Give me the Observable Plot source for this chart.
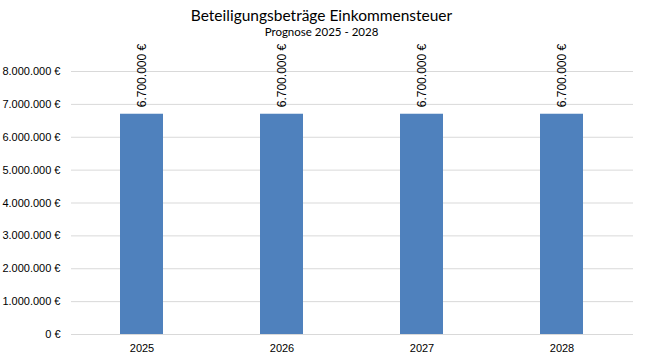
<!DOCTYPE html>
<html>
<head>
<meta charset="utf-8">
<script src="https://cdn.jsdelivr.net/npm/d3@7"></script>
<script src="https://cdn.jsdelivr.net/npm/@observablehq/plot@0.6"></script>
<style>
  html, body { margin: 0; padding: 0; background: #fff; }
  #wrap { position: relative; width: 645px; height: 364px; overflow: hidden; }
  #title { position: absolute; left: 0; width: 643px; top: 5px; text-align: center;
           font-family: Lato, sans-serif; font-size: 15.5px; color: #000; line-height: 20px; }
  #subtitle { position: absolute; left: 0; width: 643px; top: 25px; text-align: center;
           font-family: Lato, sans-serif; font-size: 11.5px; color: #000; line-height: 14px; }
  #chart svg { overflow: visible; }
</style>
</head>
<body>
<div id="wrap">
  <div id="chart"></div>
  <div id="title">Beteiligungsbeträge Einkommensteuer</div>
  <div id="subtitle">Prognose 2025 - 2028</div>
</div>
<script>
const years = ["2025", "2026", "2027", "2028"];
const values = [6700000, 6700000, 6700000, 6700000];
const yTicks = [0, 1000000, 2000000, 3000000, 4000000, 5000000, 6000000, 7000000, 8000000];

const data = years.map((y, i) => ({year: y, value: values[i]}));
const fmt = v => (v === 0 ? "0" : d3.format(",")(v).replace(/,/g, ".")) + " €";

const chart = Plot.plot({
  width: 645,
  height: 364,
  marginTop: 71,
  marginBottom: 30,
  marginLeft: 71,
  marginRight: 12,
  style: {fontFamily: "'Liberation Sans', Arial, sans-serif", fontSize: "11px", color: "#000", background: "#fff"},
  x: {domain: years, paddingInner: 0.69, paddingOuter: 0.345, label: null, tickSize: 0, tickPadding: 10},
  y: {domain: [0, 8000000], ticks: yTicks, tickFormat: fmt, label: null, tickSize: 0, tickPadding: 11},
  marks: [
    Plot.gridY(yTicks, {stroke: "#d9d9d9", strokeOpacity: 1, strokeWidth: 1}),
    Plot.barY(data, {x: "year", y: "value", fill: "#4F81BD"}),
    Plot.text(data, {x: "year", y: "value", text: d => fmt(d.value), rotate: -90,
      textAnchor: "start", lineAnchor: "middle", dy: -7, fontSize: 12, fill: "#000"})
  ]
});
document.getElementById("chart").appendChild(chart);
</script>
</body>
</html>
